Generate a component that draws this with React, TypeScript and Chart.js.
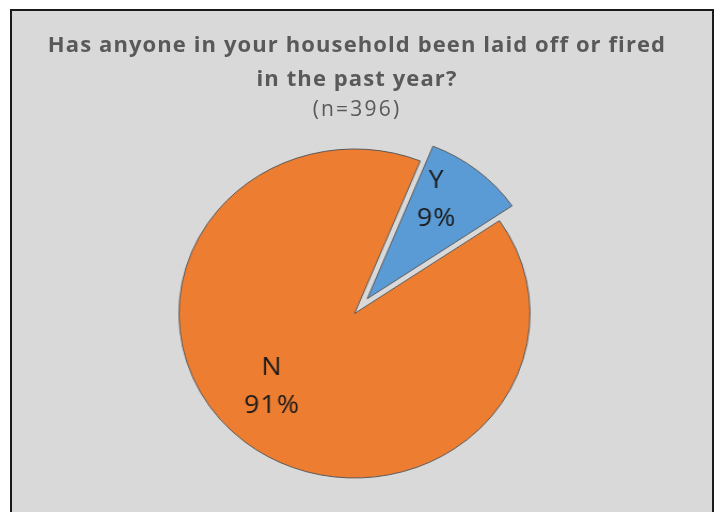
import React, { useEffect, useRef } from "react";
import { Chart, registerables } from "chart.js";

Chart.register(...registerables);

const categories = ["Y", "N"];
const counts = [37, 359];
const sliceColors = ["#5b9bd5", "#ed7d31"];
const titleLines = ["Has anyone in your household been laid off or fired", "in the past year?"];
const subtitle = "(n=396)";

const total = counts.reduce((a, b) => a + b, 0);
const pctLabels = counts.map((c) => Math.round((c / total) * 100) + "%");

// exploded distance per slice (px) and label placement tweaks
const explode = [19, 0];
const labelFrac = [0.72, 0.65];
const labelShift = [-5.5, 7.5];

const explodePlugin = {
  id: "explodeSlices",
  beforeDatasetDraw(chart: any, args: any) {
    const meta = chart.getDatasetMeta(args.index);
    meta.data.forEach((arc: any, i: number) => {
      if (!explode[i] || arc.__exploded) return;
      const orig = arc.draw;
      arc.draw = function (ctx: CanvasRenderingContext2D, area: any) {
        const mid = (this.startAngle + this.endAngle) / 2;
        ctx.save();
        ctx.translate(Math.cos(mid) * explode[i], Math.sin(mid) * explode[i]);
        orig.call(this, ctx, area);
        ctx.restore();
      };
      arc.__exploded = true;
    });
  },
};

const labelPlugin = {
  id: "sliceLabels",
  afterDatasetsDraw(chart: any) {
    const ctx = chart.ctx;
    const meta = chart.getDatasetMeta(0);
    meta.data.forEach((arc: any, i: number) => {
      const p = arc.getProps(["x", "y", "startAngle", "endAngle", "outerRadius"], true);
      const off = explode[i] || 0;
      const mid = (p.startAngle + p.endAngle) / 2;
      const ang = mid + (labelShift[i] * Math.PI) / 180;
      const ex = p.x + Math.cos(mid) * off;
      const ey = p.y + Math.sin(mid) * off;
      const d = labelFrac[i] * p.outerRadius;
      const cx = ex + Math.cos(ang) * d;
      const cy = ey + Math.sin(ang) * d;
      ctx.save();
      ctx.fillStyle = "#1a1a1a";
      ctx.font = "25px 'Open Sans', Lato, sans-serif";
      (ctx as any).letterSpacing = "1px";
      ctx.textAlign = "center";
      ctx.textBaseline = "middle";
      ctx.fillText(categories[i], cx, cy - 19);
      ctx.fillText(pctLabels[i], cx, cy + 19);
      ctx.restore();
    });
  },
};

export default function App() {
  const ref = useRef<HTMLCanvasElement>(null);
  useEffect(() => {
    if (!ref.current) return;
    const chart = new Chart(ref.current, {
      type: "pie",
      data: {
        labels: categories,
        datasets: [
          {
            data: counts,
            backgroundColor: sliceColors,
            borderColor: "#595959",
            borderWidth: 1,
          },
        ],
      },
      options: {
        animation: false,
        responsive: true,
        maintainAspectRatio: false,
        devicePixelRatio: 1,
        rotation: 22,
        radius: 164.5,
        layout: { padding: { left: 0, right: 13, top: 104, bottom: 0 } },
        plugins: {
          legend: { display: false },
          tooltip: { enabled: false },
          title: { display: false },
        },
      },
      plugins: [explodePlugin, labelPlugin],
    });
    return () => chart.destroy();
  }, []);

  return (
    <div
      style={{
        position: "absolute",
        left: 10,
        top: 9,
        width: 704,
        height: 520,
        boxSizing: "border-box",
        border: "2px solid #1a1a1a",
        borderBottom: "none",
        background: "#d9d9d9",
        overflow: "hidden",
      }}
    >
      <div
        style={{
          position: "absolute",
          left: 0,
          top: 0,
          width: 655,
          height: 501,
          transform: "scaleX(1.067)",
          transformOrigin: "0 0",
        }}
      >
        <canvas ref={ref} />
      </div>
      <div
        style={{
          position: "absolute",
          left: 0,
          top: 15,
          width: 690,
          textAlign: "center",
          fontFamily: "'Open Sans', Lato, sans-serif",
          color: "#595959",
          fontSize: 22,
          lineHeight: "34px",
        }}
      >
        <div style={{ fontWeight: "bold", letterSpacing: 1.1 }}>{titleLines[0]}</div>
        <div style={{ fontWeight: "bold", letterSpacing: 1.1 }}>{titleLines[1]}</div>
        <div style={{ fontSize: 21, letterSpacing: 2.2, marginTop: -3 }}>{subtitle}</div>
      </div>
    </div>
  );
}
